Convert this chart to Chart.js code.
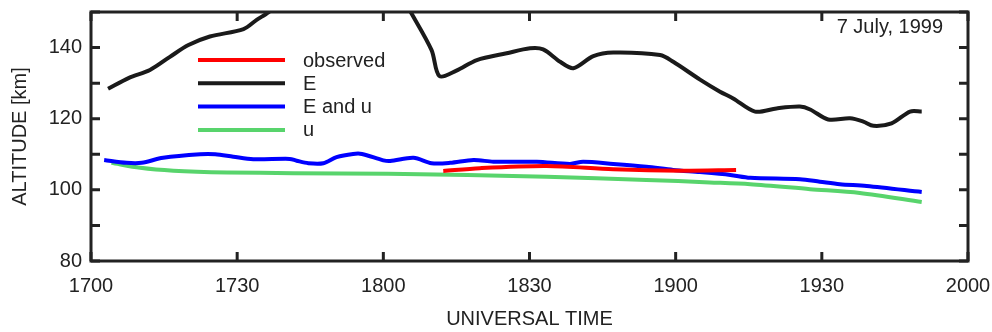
<!DOCTYPE html>
<html>
<head>
<meta charset="utf-8">
<script src="https://cdn.jsdelivr.net/npm/chart.js@4"></script>
<style>
  html, body { margin: 0; padding: 0; background: #fff; }
  #wrap { width: 992px; height: 332px; position: relative; }
</style>
</head>
<body>
<div id="wrap"><canvas id="altChart"></canvas></div>
<script>
// minutes after 1700 UT
const obsTime = [72.3, 79.8, 93.5, 107.2, 120.9, 132.4];
const obsAlt = [105.3, 106.1, 106.7, 105.8, 105.4, 105.6];

const eTime = [3.5, 7.8, 12.1, 16.2, 20, 24.4, 31.3, 34, 36.4, 37.6, 50,
  65.2, 69.9, 71.5, 75, 79.2, 85.3, 90.1, 92.8, 96.3, 99, 103.1, 107.2, 116.8, 119.5,
  125, 129.1, 131.8, 136.3, 140.7, 145.5, 147.6, 151.3, 155.8, 158.5, 160.6, 164.3, 168.1, 170.5];
const eAlt = [128.4, 131.5, 133.7, 137.4, 140.7, 143.1, 145.2, 147.8, 149.9, 151.5, null,
  151, 139.3, 132, 133.5, 136.5, 138.4, 139.8, 139.5, 136, 134.2, 137.6, 138.6, 137.9, 136,
  131, 127.6, 125.7, 122, 122.9, 123.4, 122.6, 119.8, 120.1, 119.2, 118, 118.7, 122, 122];

const euTime = [2.7, 7.3, 10.4, 14.8, 22.4, 25.5, 29.2, 33.3, 40.8, 42.2, 44.6, 47.7, 50.4,
  53.8, 55.6, 60, 61.4, 66.2, 69.9, 73.7, 78.5, 82.6, 91.5, 98.3, 101, 107.2, 114, 119.5,
  125, 131.2, 135.3, 145.5, 149.6, 153.7, 159.2, 170.5];
const euAlt = [108.4, 107.6, 107.6, 109, 110, 110, 109.3, 108.6, 108.7, 108.2, 107.5, 107.5, 109.2,
  110.1, 110.1, 108.3, 108.1, 109, 107.5, 107.6, 108.4, 107.9, 107.9, 107.3, 107.9, 107.3, 106.5, 105.6,
  105, 104.2, 103.4, 103, 102.3, 101.6, 101.1, 99.4];

const uTime = [4.2, 10.1, 16.9, 27.9, 41.5, 61, 93.5, 114, 127, 135.3, 147.6, 157.8, 170.5];
const uAlt = [107.6, 106.2, 105.4, 104.9, 104.7, 104.5, 103.7, 102.8, 102.1, 101.6, 100.2, 99.1, 96.6];

const seriesNames = ['observed', 'E', 'E and u', 'u'];
const seriesColors = ['#ff0000', '#1a1a1a', '#0000ff', '#58d46c'];
const dateLabel = '7 July, 1999';

const FONT = 'Liberation Sans, Arial, Helvetica, sans-serif';
const INK = '#222';

function pts(xs, ys) {
  return xs.map((x, i) => ({ x: x, y: ys[i] }));
}

function utLabel(v) {
  const h = 17 + Math.floor(v / 60);
  const m = Math.round(v % 60);
  return String(h * 100 + m);
}

// frame, inward ticks, legend and date text
const framePlugin = {
  id: 'frame',
  afterDraw(chart) {
    const ctx = chart.ctx;
    const a = chart.chartArea;
    const xs = chart.scales.x, ys = chart.scales.y;
    const len = 9;
    ctx.save();
    ctx.strokeStyle = INK;
    ctx.lineWidth = 3;
    ctx.strokeRect(a.left, a.top, a.right - a.left, a.bottom - a.top);
    ctx.beginPath();
    for (let v = 0; v <= 180; v += 30) {
      const px = xs.getPixelForValue(v);
      ctx.moveTo(px, a.bottom); ctx.lineTo(px, a.bottom - len);
      ctx.moveTo(px, a.top); ctx.lineTo(px, a.top + len);
    }
    for (let v = 80; v <= 150; v += 10) {
      const py = ys.getPixelForValue(v);
      ctx.moveTo(a.left, py); ctx.lineTo(a.left + len, py);
      ctx.moveTo(a.right, py); ctx.lineTo(a.right - len, py);
    }
    ctx.stroke();

    // legend
    ctx.font = '20px ' + FONT;
    ctx.textBaseline = 'middle';
    ctx.textAlign = 'left';
    chart.data.datasets.forEach((ds, i) => {
      const y = 60 + i * 23.3;
      ctx.strokeStyle = ds.borderColor;
      ctx.lineWidth = 4;
      ctx.beginPath();
      ctx.moveTo(198, y); ctx.lineTo(285, y);
      ctx.stroke();
      ctx.fillStyle = INK;
      ctx.fillText(ds.label, 303, y + 1);
    });

    ctx.textAlign = 'right';
    ctx.textBaseline = 'alphabetic';
    ctx.fillText(dateLabel, 943, 33);
    ctx.restore();
  }
};

const ctx = document.getElementById('altChart').getContext('2d');
new Chart(ctx, {
  type: 'line',
  data: {
    datasets: [
      { label: seriesNames[0], data: pts(obsTime, obsAlt), borderColor: seriesColors[0] },
      { label: seriesNames[1], data: pts(eTime, eAlt), borderColor: seriesColors[1] },
      { label: seriesNames[2], data: pts(euTime, euAlt), borderColor: seriesColors[2] },
      { label: seriesNames[3], data: pts(uTime, uAlt), borderColor: seriesColors[3] }
    ]
  },
  options: {
    responsive: true,
    maintainAspectRatio: false,
    animation: false,
    spanGaps: false,
    elements: {
      point: { radius: 0 },
      line: { borderWidth: 4, tension: 0.3, fill: false, borderCapStyle: 'butt' }
    },
    layout: { padding: { left: 0, top: 12, right: 24, bottom: 0 } },
    plugins: { legend: { display: false }, tooltip: { enabled: false } },
    scales: {
      x: {
        type: 'linear',
        min: 0, max: 180,
        grid: { display: false, drawTicks: false },
        border: { display: false },
        ticks: {
          stepSize: 30, autoSkip: false, maxRotation: 0, padding: 13,
          color: INK, font: { family: FONT, size: 20 },
          callback: utLabel
        },
        title: {
          display: true, text: 'UNIVERSAL TIME', color: INK,
          font: { family: FONT, size: 20 }, padding: { top: 0, bottom: 1 }
        },
        afterFit(s) { s.height = 71; s.paddingLeft = 0; s.paddingRight = 0; }
      },
      y: {
        min: 80, max: 150,
        grid: { display: false, drawTicks: false },
        border: { display: false },
        ticks: {
          stepSize: 10, autoSkip: false, padding: 9,
          color: INK, font: { family: FONT, size: 20 },
          callback: v => (v % 20 === 0 ? String(v) : '')
        },
        title: {
          display: true, text: 'ALTITUDE [km]', color: INK,
          font: { family: FONT, size: 20 }, padding: { top: 8, bottom: 0 }
        },
        afterFit(s) { s.width = 91; s.paddingTop = 0; s.paddingBottom = 0; }
      }
    }
  },
  plugins: [framePlugin]
});
</script>
</body>
</html>
